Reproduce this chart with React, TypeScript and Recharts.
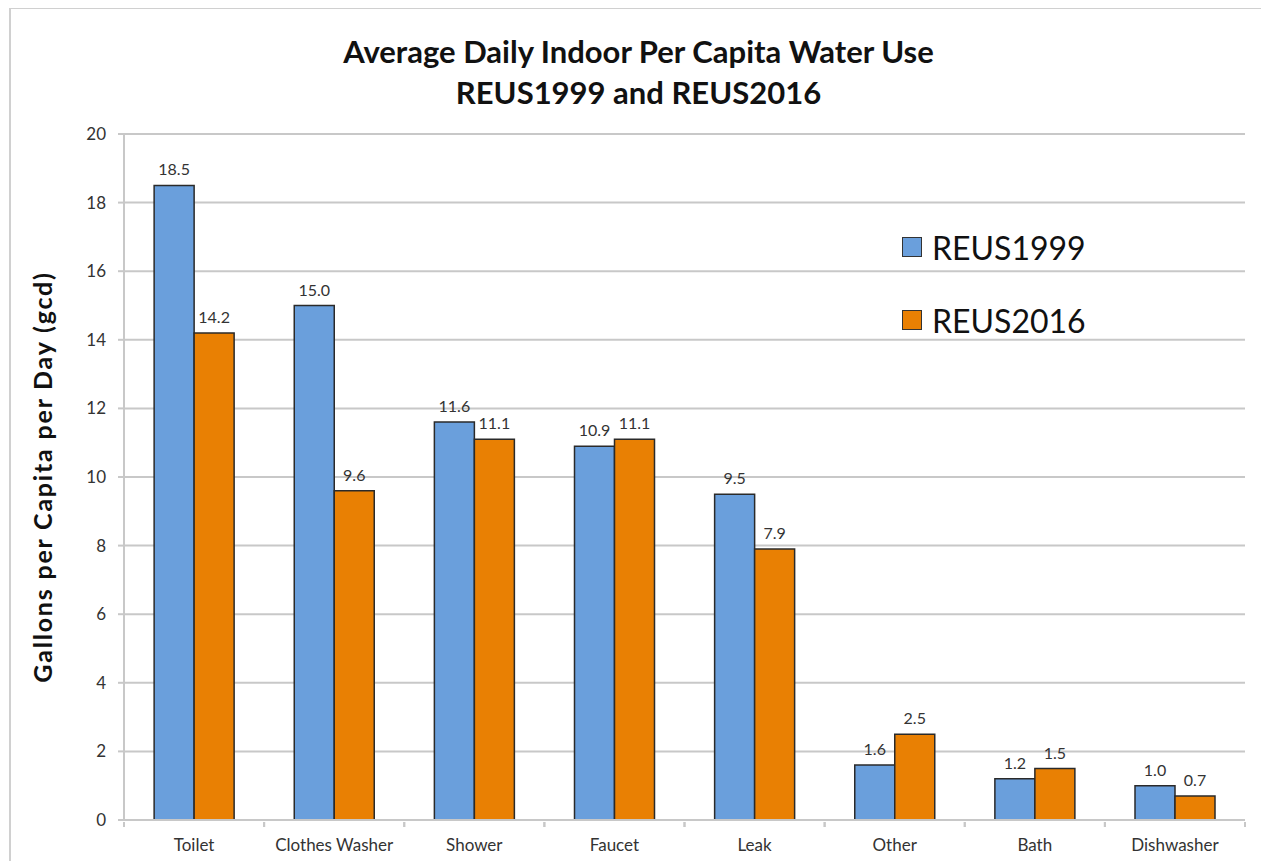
import React from "react";
import { BarChart, Bar, XAxis, YAxis, CartesianGrid, LabelList } from "recharts";

const categories = ["Toilet", "Clothes Washer", "Shower", "Faucet", "Leak", "Other", "Bath", "Dishwasher"];
const reus1999 = [18.5, 15.0, 11.6, 10.9, 9.5, 1.6, 1.2, 1.0];
const reus2016 = [14.2, 9.6, 11.1, 11.1, 7.9, 2.5, 1.5, 0.7];
const yTicks = [0, 2, 4, 6, 8, 10, 12, 14, 16, 18, 20];
const seriesNames = ["REUS1999", "REUS2016"];
const colors = ["#6a9fdc", "#e98003"];

const data = categories.map((c, i) => ({ name: c, a: reus1999[i], b: reus2016[i] }));

const FONT = "Lato, 'Open Sans', sans-serif";

const XTick = (props: any) => {
  const { x, y, payload } = props;
  const half = payload && payload.offset ? payload.offset : 70;
  return (
    <g>
      <line x1={x - half} x2={x - half} y1={y - 6} y2={y - 1} stroke="#c8c8c8" strokeWidth={2} />
      <line x1={x + half} x2={x + half} y1={y - 6} y2={y - 1} stroke="#c8c8c8" strokeWidth={2} />
      <text x={x} y={y + 23} textAnchor="middle" fill="#333" fontSize={17} fontFamily={FONT}>
        {payload.value}
      </text>
    </g>
  );
};

export default function App() {
  return (
    <div style={{ position: "relative", width: 1261, height: 853, fontFamily: FONT }}>
      <div style={{ position: "absolute", left: 1, top: -1, width: 1259, height: 900, border: "2px solid #d0d0d0", boxSizing: "border-box" }} />
      <div style={{ position: "absolute", left: 2, width: 1257, top: 23, textAlign: "center", fontWeight: 700, fontSize: 31, color: "#111", lineHeight: "41px" }}>
        <div>Average Daily Indoor Per Capita Water Use</div>
        <div>REUS1999 and REUS2016</div>
      </div>
      <div style={{ position: "absolute", left: 894, top: 218 }}>
        {seriesNames.map((n, i) => (
          <div key={n} style={{ display: "flex", alignItems: "center", height: 42, marginBottom: i === 0 ? 31 : 0 }}>
            <div style={{ width: 18, height: 18, background: colors[i], border: "1.5px solid #333", marginRight: 10 }} />
            <span style={{ fontSize: 32, color: "#111" }}>{n}</span>
          </div>
        ))}
      </div>
      <BarChart
        width={1261}
        height={853}
        data={data}
        margin={{ top: 126, right: 24, bottom: 0, left: 0 }}
        barCategoryGap="21.5%"
        barGap={0}
        style={{ position: "absolute", left: 0, top: 0 }}
      >
        <CartesianGrid vertical={false} stroke="#c8c8c8" strokeWidth={2} />
        <XAxis
          dataKey="name"
          tick={<XTick />}
          tickLine={false}
          axisLine={{ stroke: "#c8c8c8", strokeWidth: 2 }}
          interval={0}
          height={41}
        />
        <YAxis
          width={116}
          domain={[0, 20]}
          ticks={yTicks}
          interval={0}
          tick={{ fill: "#333", fontSize: 17, fontFamily: FONT }}
          tickLine={{ stroke: "#c8c8c8", strokeWidth: 2 }}
          tickSize={6}
          tickMargin={12}
          axisLine={{ stroke: "#c8c8c8", strokeWidth: 2 }}
          label={{
            value: "Gallons per Capita per Day (gcd)",
            angle: -90,
            position: "insideLeft",
            offset: 35,
            style: { textAnchor: "middle", fontWeight: 700, fontSize: 25, letterSpacing: 1.8, fill: "#111", fontFamily: FONT },
          }}
        />
        <Bar dataKey="a" name={seriesNames[0]} fill={colors[0]} stroke="#2a2a2a" strokeWidth={1.5} isAnimationActive={false}>
          <LabelList dataKey="a" position="top" offset={10} formatter={(v: any) => Number(v).toFixed(1)} style={{ fill: "#333", fontSize: 16, fontFamily: FONT }} />
        </Bar>
        <Bar dataKey="b" name={seriesNames[1]} fill={colors[1]} stroke="#2a2a2a" strokeWidth={1.5} isAnimationActive={false}>
          <LabelList dataKey="b" position="top" offset={10} formatter={(v: any) => Number(v).toFixed(1)} style={{ fill: "#333", fontSize: 16, fontFamily: FONT }} />
        </Bar>
      </BarChart>
    </div>
  );
}
